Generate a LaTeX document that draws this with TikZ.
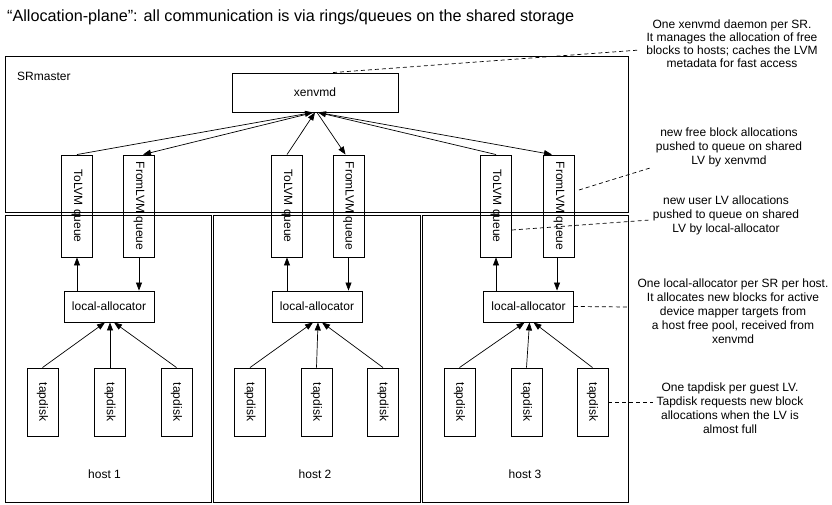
\documentclass[tikz,border=0pt]{standalone}
\usepackage{fontspec}
\setmainfont{Liberation Sans}
\usetikzlibrary{arrows.meta}
\tikzset{
  box/.style={draw, line width=0.9pt, inner sep=0pt, fill=none},
  queuebox/.style={box, minimum width=31pt, minimum height=102pt},
  labox/.style={box, minimum width=90pt, minimum height=31pt},
  tapbox/.style={box, minimum width=31pt, minimum height=68pt},
  hostbox/.style={box, minimum width=206pt, minimum height=287pt},
  arr/.style={line width=0.7pt, -{Triangle[length=8pt,width=6pt]}},
  dashline/.style={line width=0.7pt, dash pattern=on 4pt off 3pt},
  note/.style={align=center, inner sep=0pt, font=\fontsize{12}{14}\selectfont},
}
\begin{document}
\begin{tikzpicture}[x=1pt, y=-1pt, font=\fontsize{12}{14}\selectfont]
\useasboundingbox (0,0) rectangle (832,505);
% title
\node[anchor=base west, inner sep=0pt, font=\fontsize{16.2}{19}\selectfont] (title) at (7,22)
  {“Allocation-plane”: all communication is via rings/queues on the shared storage};
% SR master
\node[box, minimum width=623pt, minimum height=156pt] (srm) at (316.5,134) {};
\node[anchor=west, inner sep=0pt] (srml) at (17,76) {SRmaster};
% hosts
\node[hostbox] (h1) at (108,358.5) {};
\node[hostbox, minimum width=207pt] (h2) at (316.5,358.5) {};
\node[hostbox] (h3) at (525,358.5) {};
\node[inner sep=0pt] (h1l) at (104.5,474) {host 1};
\node[inner sep=0pt] (h2l) at (315,474) {host 2};
\node[inner sep=0pt] (h3l) at (525,474) {host 3};
% xenvmd
\node[box, minimum width=166pt, minimum height=39pt] (xen) at (315,92.5) {xenvmd};
% queues
\node[queuebox] (tol1) at (77,206) {\rotatebox{-90}{ToLVM queue}};
\node[queuebox] (frl1) at (139,206) {\rotatebox{-90}{FromLVM queue}};
\node[queuebox] (tol2) at (287,206) {\rotatebox{-90}{ToLVM queue}};
\node[queuebox] (frl2) at (348.5,206) {\rotatebox{-90}{FromLVM queue}};
\node[queuebox] (tol3) at (496,206) {\rotatebox{-90}{ToLVM queue}};
\node[queuebox] (frl3) at (559,206) {\rotatebox{-90}{FromLVM queue}};
% local allocators
\node[labox] (la1) at (109,306.5) {local-allocator};
\node[labox] (la2) at (317,306.5) {local-allocator};
\node[labox] (la3) at (528.5,306.5) {local-allocator};
% tapdisks
\node[tapbox] (ta1) at (42.5,402) {\rotatebox{-90}{tapdisk}};
\node[tapbox] (tb1) at (110,402) {\rotatebox{-90}{tapdisk}};
\node[tapbox] (tc1) at (176.5,402) {\rotatebox{-90}{tapdisk}};
\node[tapbox] (ta2) at (250,402) {\rotatebox{-90}{tapdisk}};
\node[tapbox] (tb2) at (316.5,402) {\rotatebox{-90}{tapdisk}};
\node[tapbox] (tc2) at (383,402) {\rotatebox{-90}{tapdisk}};
\node[tapbox] (ta3) at (459.5,402) {\rotatebox{-90}{tapdisk}};
\node[tapbox] (tb3) at (526.5,402) {\rotatebox{-90}{tapdisk}};
\node[tapbox] (tc3) at (592.5,402) {\rotatebox{-90}{tapdisk}};
% queues <-> xenvmd
\draw[arr] (tol1.north) -- ([xshift=-2pt]xen.south);
\draw[arr] ([xshift=-1pt]xen.south) -- ([xshift=4pt]frl1.north);
\draw[arr] (tol2.north) -- ([xshift=0pt]xen.south);
\draw[arr] ([xshift=2pt]xen.south) -- ([xshift=-3pt]frl2.north);
\draw[arr] (tol3.north) -- ([xshift=3pt]xen.south);
\draw[arr] ([xshift=3pt]xen.south) -- ([xshift=-7pt]frl3.north);
% local allocators <-> queues
\draw[arr] (la1.north -| tol1.south) -- (tol1.south);
\draw[arr] (frl1.south) -- (frl1.south |- la1.north);
\draw[arr] (la2.north -| tol2.south) -- (tol2.south);
\draw[arr] (frl2.south) -- (frl2.south |- la2.north);
\draw[arr] (la3.north -| tol3.south) -- (tol3.south);
\draw[arr] ([xshift=-2pt]frl3.south) -- ([xshift=-2pt]frl3.south |- la3.north);
% tapdisks -> local allocators
\foreach \h in {1,2,3}{
  \draw[arr] (ta\h.north) -- ([xshift=-4pt]la\h.south);
  \draw[arr] (tb\h.north) -- ([xshift=1pt]la\h.south);
  \draw[arr] (tc\h.north) -- ([xshift=5pt]la\h.south);
}
% notes
\node[note, font=\fontsize{12}{13}\selectfont] (n1) at (732,44)
  {One xenvmd daemon per SR.\\It manages the allocation of free\\blocks to hosts; caches the LVM\\metadata for fast access};
\node[note] (n2) at (729,147)
  {new free block allocations\\pushed to queue on shared\\LV by xenvmd};
\node[note] (n3) at (726,215)
  {new user LV allocations\\pushed to queue on shared\\LV by local-allocator};
\node[note] (n4) at (733,311)
  {One local-allocator per SR per host.\\It allocates new blocks for active\\device mapper targets from\\a host free pool, received from\\xenvmd};
\node[note] (n5) at (730,408.5)
  {One tapdisk per guest LV.\\Tapdisk requests new block\\allocations when the LV is\\almost full};
% callout connectors
\coordinate (n1e) at (640,50);
\coordinate (n2e) at (650,168);
\coordinate (n3e) at (650,220);
\coordinate (n4e) at (628,307);
\coordinate (n5e) at (653,402);
\draw[dashline] ([xshift=18pt]xen.north) -- (n1e);
\draw[dashline] ([xshift=4pt,yshift=16pt]frl3.east) -- (n2e);
\draw[dashline] ([yshift=-24pt]tol3.east) -- (n3e);
\draw[dashline] (la3.east) -- (n4e);
\draw[dashline] (tc3.east) -- (n5e);
\end{tikzpicture}
\end{document}
